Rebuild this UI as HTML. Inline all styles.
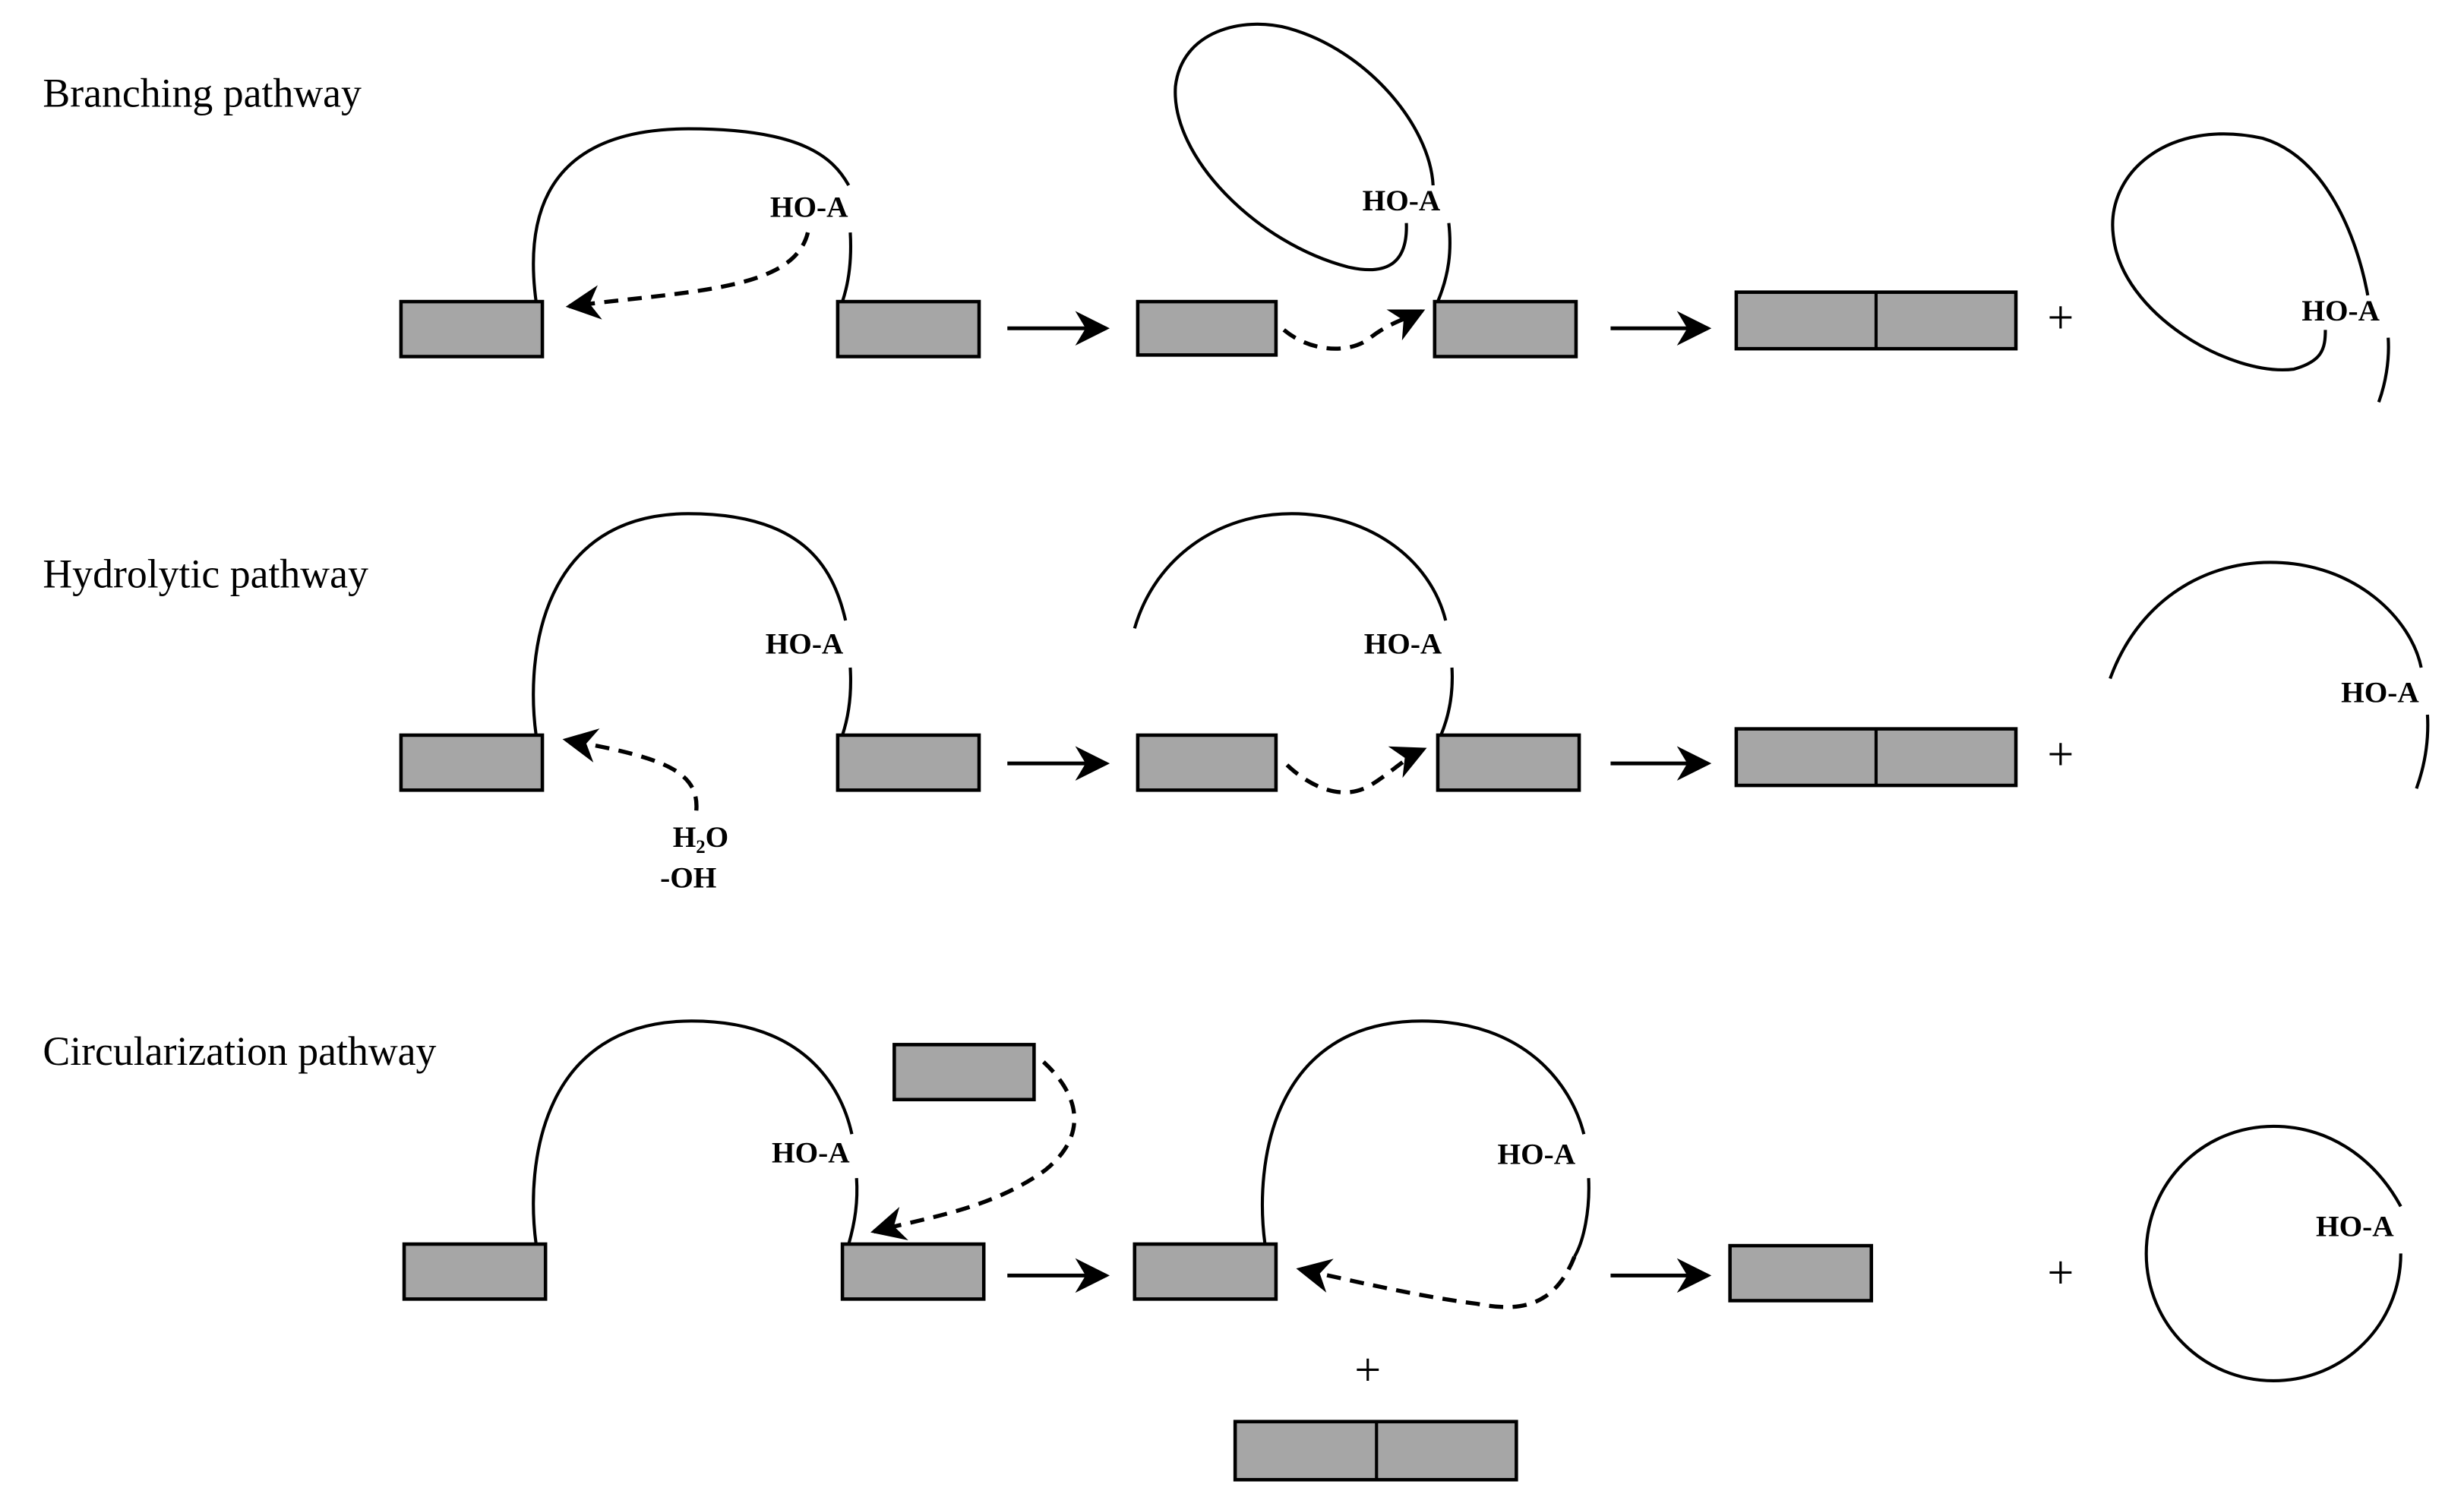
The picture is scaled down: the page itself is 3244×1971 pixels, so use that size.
<!DOCTYPE html>
<html><head><meta charset="utf-8"><style>
html,body{margin:0;padding:0;background:#fff}
svg{display:block}
text{font-family:"Liberation Serif",serif;fill:#000}
.t{font-size:26px}
.h{font-size:19px;font-weight:bold}
.b{fill:#a6a6a6;stroke:#000;stroke-width:2.2}
.l{fill:none;stroke:#000;stroke-width:2}
.d{fill:none;stroke:#000;stroke-width:2.6;stroke-dasharray:9,6}
.a{fill:none;stroke:#000;stroke-width:2.4}
</style></head><body>
<svg width="3244" height="1971" viewBox="0 0 1568 953" xmlns="http://www.w3.org/2000/svg">
<defs>
<marker id="m" viewBox="0 0 20 20" refX="18" refY="10" markerWidth="9" markerHeight="9" orient="auto" markerUnits="userSpaceOnUse">
<path d="M0,0 L20,10 L0,20 L6,10 Z" fill="#000"/></marker>
<marker id="m2" viewBox="0 0 20 20" refX="18" refY="10" markerWidth="22" markerHeight="22" orient="auto" markerUnits="userSpaceOnUse">
<path d="M0,0 L20,10 L0,20 L6,10 Z" fill="#000"/></marker>
</defs>

<!-- Row 1 -->
<text class="t" x="27" y="68">Branching pathway</text>
<rect class="b" x="255" y="192" width="90" height="35"/>
<rect class="b" x="533" y="192" width="90" height="35"/>
<path class="l" d="M341,192 C334,140 345,82 438,82 C510,82 530,100 540,118"/>
<path class="l" d="M541,148 C542,165 540,180 536,192"/>
<text class="h" x="490" y="138">HO-A</text>
<path class="d" d="M514,148 C505,185 440,185 362,195" marker-end="url(#m2)"/>
<line class="a" x1="641" y1="209" x2="704" y2="209" marker-end="url(#m2)"/>
<rect class="b" x="724" y="192" width="88" height="34"/>
<rect class="b" x="913" y="192" width="90" height="35"/>
<path class="l" d="M895,142 C896,170 880,175 858,170 C800,155 745,100 748,55 C752,20 790,10 820,18 C870,32 910,80 912,118"/>
<path class="l" d="M922,142 C924,160 922,175 915,192"/>
<text class="h" x="867" y="134">HO-A</text>
<path class="d" d="M817,210 C835,225 860,225 872,215 C885,205 895,203 905,198" marker-end="url(#m2)"/>
<line class="a" x1="1025" y1="209" x2="1087" y2="209" marker-end="url(#m2)"/>
<rect class="b" x="1105" y="186" width="178" height="36"/>
<line class="l" x1="1194" y1="186" x2="1194" y2="222"/>
<text x="1303" y="212" style="font-size:30px">+</text>
<path class="l" d="M1507,188 C1500,150 1480,100 1440,88 C1380,75 1340,110 1345,150 C1350,200 1420,240 1460,235 C1478,230 1480,222 1480,210"/>
<path class="l" d="M1520,215 C1521,230 1518,245 1514,256"/>
<text class="h" x="1465" y="204">HO-A</text>

<!-- Row 2 -->
<text class="t" x="27" y="374">Hydrolytic pathway</text>
<rect class="b" x="255" y="468" width="90" height="35"/>
<rect class="b" x="533" y="468" width="90" height="35"/>
<path class="l" d="M341,468 C334,416 345,327 438,327 C510,327 530,360 538,395"/>
<path class="l" d="M541,425 C542,442 540,456 536,468"/>
<text class="h" x="487" y="416">HO-A</text>
<path class="d" d="M443,516 C445,490 420,482 360,471" marker-end="url(#m2)"/>
<text class="h" x="428" y="539">H<tspan font-size="12" dy="4">2</tspan><tspan dy="-4">O</tspan></text>
<text class="h" x="420" y="565">-OH</text>
<line class="a" x1="641" y1="486" x2="704" y2="486" marker-end="url(#m2)"/>
<rect class="b" x="724" y="468" width="88" height="35"/>
<rect class="b" x="915" y="468" width="90" height="35"/>
<path class="l" d="M722,400 C735,355 775,327 822,327 C870,327 910,355 920,395"/>
<path class="l" d="M924,425 C925,442 922,456 917,468"/>
<text class="h" x="868" y="416">HO-A</text>
<path class="d" d="M819,487 C835,502 855,510 872,500 C885,492 895,482 906,477" marker-end="url(#m2)"/>
<line class="a" x1="1025" y1="486" x2="1087" y2="486" marker-end="url(#m2)"/>
<rect class="b" x="1105" y="464" width="178" height="36"/>
<line class="l" x1="1194" y1="464" x2="1194" y2="500"/>
<text x="1303" y="490" style="font-size:30px">+</text>
<path class="l" d="M1343,432 C1360,385 1400,358 1445,358 C1500,358 1535,395 1541,425"/>
<path class="l" d="M1545,455 C1546,472 1543,488 1538,502"/>
<text class="h" x="1490" y="447">HO-A</text>

<!-- Row 3 -->
<text class="t" x="27" y="678">Circularization pathway</text>
<rect class="b" x="257" y="792" width="90" height="35"/>
<rect class="b" x="536" y="792" width="90" height="35"/>
<path class="l" d="M341,792 C334,740 345,650 440,650 C510,650 535,690 542,722"/>
<path class="l" d="M545,750 C546,765 544,778 540,792"/>
<text class="h" x="491" y="740">HO-A</text>
<rect class="b" x="569" y="665" width="89" height="35"/>
<path class="d" d="M664,676 C690,700 690,725 665,745 C630,770 590,775 556,784" marker-end="url(#m2)"/>
<line class="a" x1="641" y1="812" x2="704" y2="812" marker-end="url(#m2)"/>
<rect class="b" x="722" y="792" width="90" height="35"/>
<path class="l" d="M805,792 C798,740 810,650 905,650 C970,650 1000,690 1008,722"/>
<path class="l" d="M1011,750 C1012,770 1008,790 1002,800"/>
<path class="d" d="M1002,800 C990,830 970,836 940,830 C900,825 860,815 827,808" marker-end="url(#m2)"/>
<text class="h" x="953" y="741">HO-A</text>
<line class="a" x1="1025" y1="812" x2="1087" y2="812" marker-end="url(#m2)"/>
<rect class="b" x="1101" y="793" width="90" height="35"/>
<text x="1303" y="820" style="font-size:30px">+</text>
<path class="l" d="M1528,768 C1510,735 1480,717 1447,717 C1402,717 1366,753 1366,798 C1366,843 1402,879 1447,879 C1492,879 1528,843 1528,798"/>
<text class="h" x="1474" y="787">HO-A</text>
<text x="862" y="882" style="font-size:30px">+</text>
<rect class="b" x="786" y="905" width="179" height="37"/>
<line class="l" x1="876" y1="905" x2="876" y2="942"/>
</svg>
</body></html>
